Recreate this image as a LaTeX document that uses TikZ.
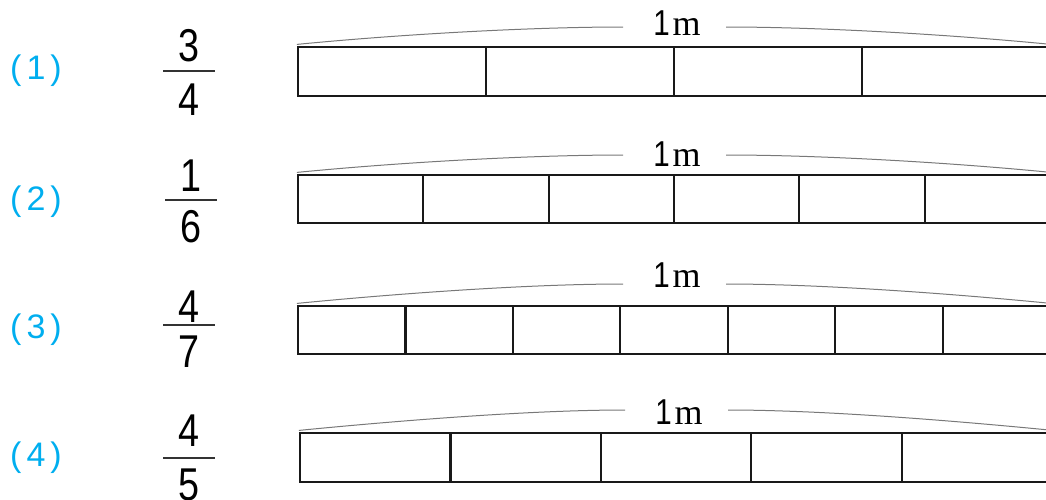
\documentclass[tikz,border=0pt]{standalone}
\usepackage{fontspec}
\setmainfont{Liberation Sans}
\newfontfamily\serifm{Liberation Serif}
\usepackage{graphicx}
\definecolor{labelblue}{RGB}{0,174,239}
\definecolor{bracegray}{RGB}{120,120,120}
\newcommand{\narrowtxt}[1]{\scalebox{0.82}[1]{#1}}

\begin{document}
\begin{tikzpicture}[x=1pt, y=-1pt,
  partlabel/.style={inner sep=0pt, text=labelblue, font=\fontsize{34}{34}\selectfont},
  num/.style={inner sep=0pt, font=\fontsize{46}{46}\selectfont},
  meter/.style={inner sep=0pt, font=\fontsize{36}{36}\selectfont},
  bar/.style={draw=black!90, line width=2.2pt, inner sep=0pt, minimum width=752pt},
  divider/.style={draw=black!90, line width=2.2pt},
  brace/.style={draw=bracegray, line width=1pt},
  fracline/.style={draw=black!80, line width=1.6pt}]
\useasboundingbox (0,0) rectangle (1046,499);

\node (part1) [partlabel] at (36,71) {(\hspace{5pt}1\hspace{5pt})};
\node (part2) [partlabel] at (36,202) {(\hspace{5pt}2\hspace{5pt})};
\node (part3) [partlabel] at (36,330) {(\hspace{5pt}3\hspace{5pt})};
\node (part4) [partlabel] at (36,458) {(\hspace{5pt}4\hspace{5pt})};

\node (num1) [num] at (189,46) {\narrowtxt{3}};
\node (den1) [num] at (189,100) {\narrowtxt{4}};
\node (num2) [num] at (191,176) {\narrowtxt{1}};
\node (den2) [num] at (191,227) {\narrowtxt{6}};
\node (num3) [num] at (189,307) {\narrowtxt{4}};
\node (den3) [num] at (189,352) {\narrowtxt{7}};
\node (num4) [num] at (189,431) {\narrowtxt{4}};
\node (den4) [num] at (189,485) {\narrowtxt{5}};
\draw[fracline] (163,71) -- (215,71);
\draw[fracline] (165,200) -- (217,200);
\draw[fracline] (163,325) -- (215,325);
\draw[fracline] (163,458) -- (215,458);

\node (bar1) [bar, minimum height=49pt] at (674,71.5) {};
\node (bar2) [bar, minimum height=48pt] at (674,199) {};
\node (bar3) [bar, minimum height=48pt] at (674,330) {};
\node (bar4) [bar, minimum height=49pt] at (676,457.5) {};

\draw[divider] (486,47) -- (486,96);
\draw[divider] (674,47) -- (674,96);
\draw[divider] (862,47) -- (862,96);

\draw[divider] (423.3,175) -- (423.3,223);
\draw[divider] (548.7,175) -- (548.7,223);
\draw[divider] (674,175) -- (674,223);
\draw[divider] (799.3,175) -- (799.3,223);
\draw[divider] (924.7,175) -- (924.7,223);

\draw[divider] (405.4,306) -- (405.4,354);
\draw[divider] (512.9,306) -- (512.9,354);
\draw[divider] (620.3,306) -- (620.3,354);
\draw[divider] (727.7,306) -- (727.7,354);
\draw[divider] (835.1,306) -- (835.1,354);
\draw[divider] (942.6,306) -- (942.6,354);

\draw[divider] (450.4,433) -- (450.4,482);
\draw[divider] (600.8,433) -- (600.8,482);
\draw[divider] (751.2,433) -- (751.2,482);
\draw[divider] (901.6,433) -- (901.6,482);

\node (len1) [meter] at (677,23) {\narrowtxt{1}\hspace{3pt}{\serifm m}};
\node (len2) [meter] at (677,154) {\narrowtxt{1}\hspace{3pt}{\serifm m}};
\node (len3) [meter] at (677,275) {\narrowtxt{1}\hspace{3pt}{\serifm m}};
\node (len4) [meter] at (679,412) {\narrowtxt{1}\hspace{3pt}{\serifm m}};

\coordinate (brace1l) at (623,27);
\coordinate (brace1r) at (726,27);
\coordinate (brace2l) at (623,155);
\coordinate (brace2r) at (726,155);
\coordinate (brace3l) at (623,284);
\coordinate (brace3r) at (726,284);
\coordinate (brace4l) at (625,410);
\coordinate (brace4r) at (728,410);

\draw[brace] ([yshift=1.5pt]bar1.north west) .. controls +(102,-10) and +(-93,0) .. (brace1l);
\draw[brace] (brace1r) .. controls +(93,0) and +(-102,-10) .. ([yshift=1.5pt]bar1.north east);
\draw[brace] ([yshift=1.5pt]bar2.north west) .. controls +(102,-10) and +(-93,0) .. (brace2l);
\draw[brace] (brace2r) .. controls +(93,0) and +(-102,-10) .. ([yshift=1.5pt]bar2.north east);
\draw[brace] ([yshift=1.5pt]bar3.north west) .. controls +(102,-10) and +(-93,0) .. (brace3l);
\draw[brace] (brace3r) .. controls +(93,0) and +(-102,-10) .. ([yshift=1.5pt]bar3.north east);
\draw[brace] ([yshift=1.5pt]bar4.north west) .. controls +(102,-10) and +(-93,0) .. (brace4l);
\draw[brace] (brace4r) .. controls +(93,0) and +(-102,-10) .. ([yshift=1.5pt]bar4.north east);
\end{tikzpicture}
\end{document}
